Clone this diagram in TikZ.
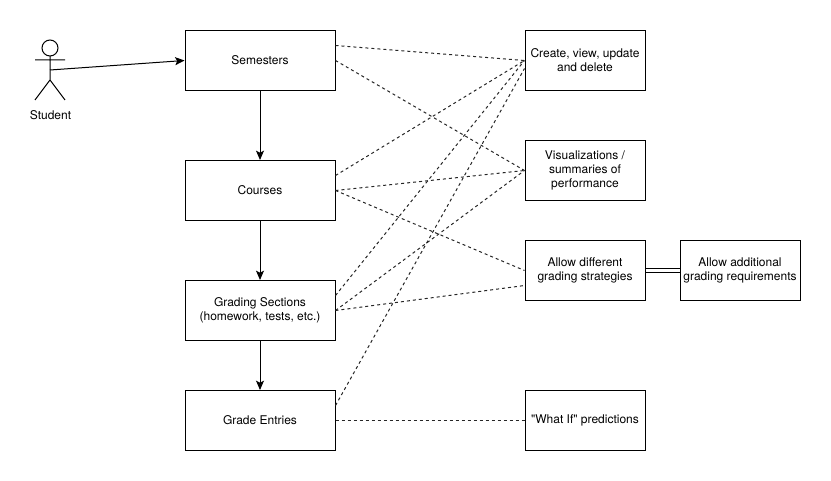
\documentclass[tikz,border=0pt]{standalone}
\usepackage{fontspec}
\setmainfont{TeX Gyre Heros}[Ligatures=TeXOff]
\usetikzlibrary{arrows.meta}
\begin{document}
\begin{tikzpicture}[x=0.75pt,y=-0.75pt,line width=0.75pt,>={Stealth[length=7pt,width=6pt,inset=1.5pt]}]
  % Styles
  \tikzstyle{box}=[draw,align=center,font=\fontsize{9}{10.5}\selectfont,inner sep=0pt,
    minimum height=45pt]
  \tikzstyle{entity box}=[box,minimum width=112.5pt]
  \tikzstyle{feature box}=[box,minimum width=90pt]
  \tikzstyle{link}=[dashed,dash pattern=on 2.25pt off 2.25pt,black!85]

  \useasboundingbox (0,0) rectangle (831,481);

  % The actor
  \draw (50,48) circle (8);
  \draw (50,56) -- (50,80) (35,60) -- (65,60) (35,100) -- (50,80) -- (65,100);
  \coordinate (hand) at (50,70);
  \node[font=\fontsize{9}{12}\selectfont] (student) at (50.5,115) {Student};

  % Left column
  \node[entity box] (semesters) at (260,60.5) {Semesters};
  \node[entity box] (courses) at (260,190.5) {Courses};
  \node[entity box] (sections) at (260,310.5) {Grading Sections\\(homework, tests, etc.)};
  \node[entity box] (entries) at (260,420.5) {Grade Entries};

  % Right column
  \node[feature box] (crud) at (585,60.5) {Create, view, update\\and delete};
  \node[feature box] (visual) at (585,170.5) {Visualizations /\\summaries of\\performance};
  \node[feature box] (strategies) at (585,270.5) {Allow different\\grading strategies};
  \node[feature box] (requirements) at (740,270.5) {Allow additional\\grading requirements};
  \node[feature box] (whatif) at (585,420.5) {"What If" predictions};

  % Solid connectors
  \draw[->] (hand) -- (semesters.west);
  \foreach \from/\to in {semesters/courses, courses/sections, sections/entries}
    \draw[->] (\from) -- (\to);
  \draw[double,double distance=2.25pt] (strategies) -- (requirements);

  % Dashed connectors
  \foreach \from/\shift/\to in {semesters/15/crud, semesters/0/visual, courses/15/crud,
      courses/0/visual, courses/0/strategies, sections/15/crud, sections/0/visual}
    \draw[link] ([yshift=\shift*0.75pt]\from.east) -- (\to.west);
  \draw[link] (sections.east) -- ([yshift=-11.25pt]strategies.west);
  \draw[link] ([yshift=11.25pt]entries.east) -- ([yshift=-6pt]crud.west);
  \draw[link] (entries) -- (whatif);
\end{tikzpicture}
\end{document}
